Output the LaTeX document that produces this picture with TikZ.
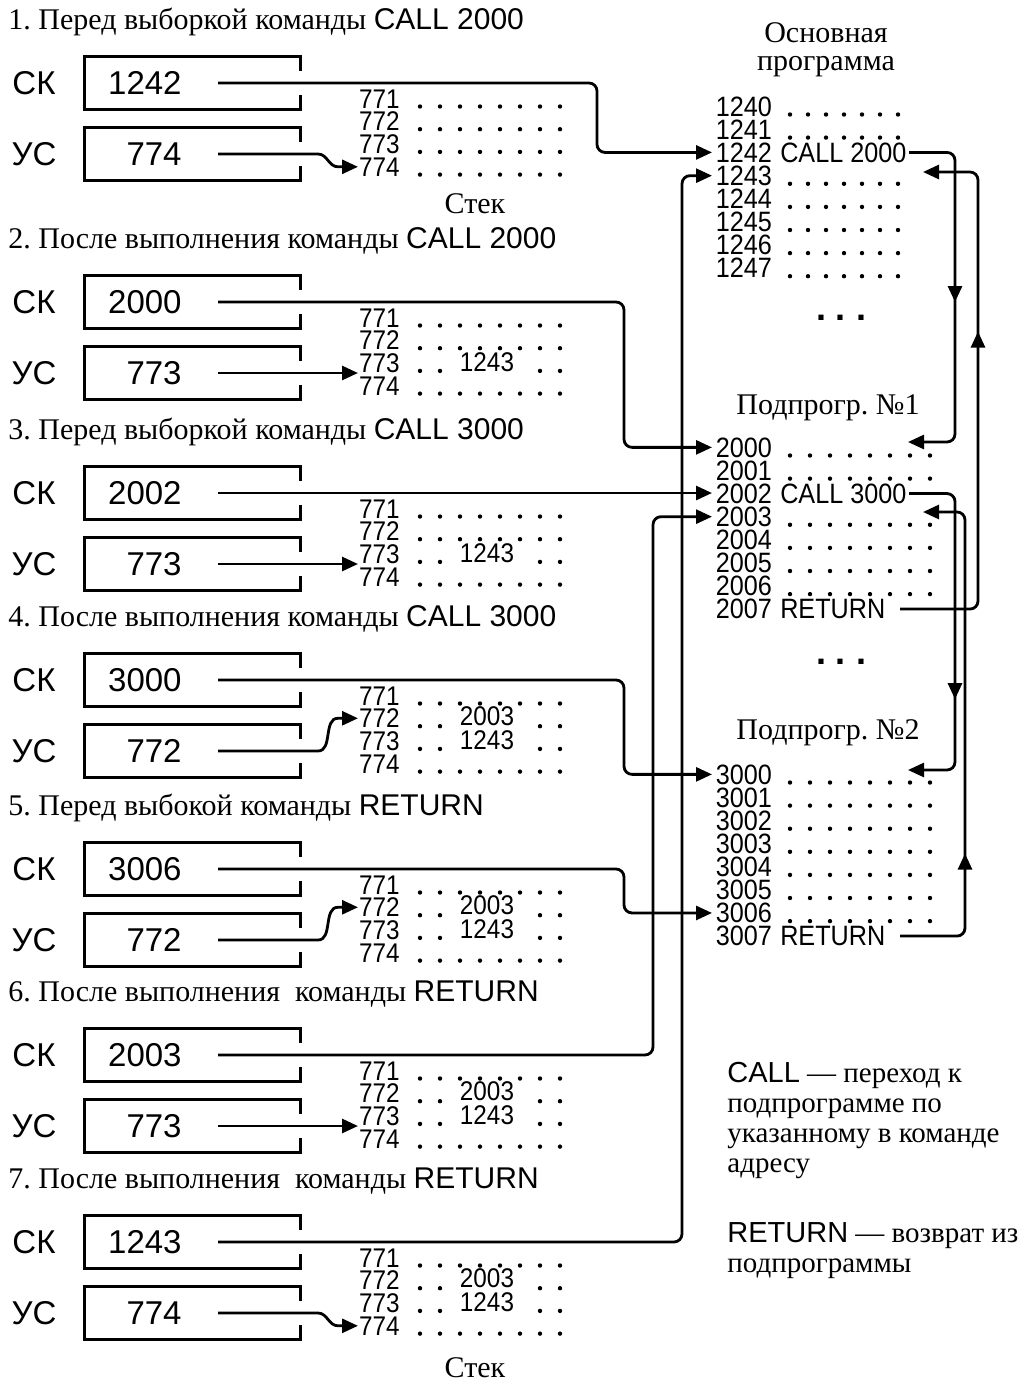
\documentclass[tikz,border=0pt]{standalone}
\usepackage{fontspec}
\setmainfont{Liberation Serif}
\setsansfont{Liberation Sans}
\newfontfamily\numfont[FakeStretch=0.9]{Liberation Sans}
\usetikzlibrary{arrows.meta,calc,positioning,decorations.markings}
\tikzset{
  reg/.style={font=\sffamily\fontsize{16.5}{16.5}\selectfont, inner sep=0pt},
  cell/.style={minimum width=107.5pt, minimum height=26pt, inner sep=0pt},
  frame/.style={line width=1.4pt},
  stk/.style={font=\numfont\fontsize{13.5}{13.5}\selectfont, inner sep=0.3pt, anchor=base west},
  row/.style={font=\numfont\fontsize{14}{14}\selectfont, inner sep=0.2pt, anchor=base west},
  head/.style={font=\fontsize{15}{15}\selectfont, inner sep=0pt, anchor=base west},
  ttl/.style={font=\fontsize{15}{14}\selectfont, align=center, inner sep=0pt},
  desc/.style={font=\fontsize{14.5}{15}\selectfont, align=left, inner sep=0pt, anchor=north west},
  link/.style={line width=1.4pt, rounded corners=4pt},
  tip/.style={link, -{Triangle[length=8pt,width=7pt]}},
  ptr/.style={line width=1.4pt, -{Triangle[length=8pt,width=7pt]}},
  midtip/.style={postaction={decorate,decoration={markings,
      mark=at position #1 with {\arrow{Triangle[length=8pt,width=7pt]}}}}},
}

\begin{document}
\frenchspacing
\begin{tikzpicture}[x=0.5pt,y=-0.5pt]
  \useasboundingbox (0,0) rectangle (1036,1382);

  \foreach \n/\y/\hd/\sv/\uv/\p/\m in {
    1/83/{1. Перед выборкой команды \textsf{CALL 2000}}/1242/774/4/0,
    2/302/{2. После выполнения команды \textsf{CALL 2000}}/2000/773/3/1,
    3/493/{3. Перед выборкой команды \textsf{CALL 3000}}/2002/773/3/1,
    4/680/{4. После выполнения команды \textsf{CALL 3000}}/3000/772/2/2,
    5/869/{5. Перед выбокой команды \textsf{RETURN}}/3006/772/2/2,
    6/1055/{6. После выполнения\ \ команды \textsf{RETURN}}/2003/773/3/2,
    7/1242/{7. После выполнения\ \ команды \textsf{RETURN}}/1243/774/4/2}{
    \node[head] (h\n) at (8,\y-54) {\hd};
    \node[reg] (skl\n) at (34,\y) {СК};
    \node[cell] (skb\n) at (192.5,\y) {};
    \node[reg, anchor=east] (skv\n) at (182,\y) {\sv};
    \draw[frame] ([yshift=-6pt]skb\n.east) -- (skb\n.south east) -- (skb\n.south west)
      -- (skb\n.north west) -- (skb\n.north east) -- ([yshift=6pt]skb\n.east);
    \node[reg] (usl\n) at (34,\y+71) {УС};
    \node[cell] (usb\n) at (192.5,\y+71) {};
    \node[reg, anchor=east] (usv\n) at (182,\y+71) {\uv};
    \draw[frame] ([yshift=-6pt]usb\n.east) -- (usb\n.south east) -- (usb\n.south west)
      -- (usb\n.north west) -- (usb\n.north east) -- ([yshift=6pt]usb\n.east);
    \foreach \r/\v in {1/771,2/772,3/773,4/774}{
      \pgfmathsetmacro\sy{\y+25+22.7*(\r-1)}
      \pgfmathtruncatemacro\full{(\m==0)||(\r==1)||(\r==4)||((\r==2)&&(\m<2))}
      \node[stk] (s\n r\r) at (358,\sy) {\v};
      \ifnum\full=1
        \foreach \k in {0,...,7} \fill (420+20*\k,\sy-1.5) circle[radius=1.1pt];
      \else
        \foreach \k in {0,1,6,7} \fill (420+20*\k,\sy-1.5) circle[radius=1.1pt];
      \fi
    }
    \ifnum\m>0 \node[stk, anchor=base] (v\n r3) at (487,\y+25+45.4-1) {1243}; \fi
    \ifnum\m>1 \node[stk, anchor=base] (v\n r2) at (487,\y+25+22.7-2) {2003}; \fi
    \ifnum\p=3
      \draw[ptr] ([xshift=18pt]usv\n.east) -- (usv\n.east -| s\n r3.west);
    \else
      \draw[ptr] ([xshift=18pt]usv\n.east) -- ++(100,0) to[out=0,in=180]
        ($(s\n r\p.west)+(-20,0)$) -- (s\n r\p.west);
    \fi
  }

  \node[ttl] (stack1) at (475,204) {Стек};
  \node[ttl] (stack7) at (475,1368) {Стек};

  \node[ttl] (tmain) at (826,50) {Основная\\программа};
  \node[ttl] (tsub1) at (828,408) {Подпрогр. №1};
  \node[ttl] (tsub2) at (828,733) {Подпрогр. №2};
  \node[font=\sffamily\bfseries\fontsize{18}{18}\selectfont, inner sep=0pt] (gap1) at (841,318) {. . .};
  \node[font=\sffamily\bfseries\fontsize{18}{18}\selectfont, inner sep=0pt] (gap2) at (841,662) {. . .};

  \foreach \s/\yb in {1240/116,2000/457,3000/784}{
    \foreach \k in {0,...,7}{
      \pgfmathtruncatemacro\num{\s+\k}
      \node[row] (r\num) at (715,\yb+23.1*\k) {\num};
    }
  }
  \foreach \yb/\dx/\nd/\rows in {116/18/6/{0,1,3,4,5,6,7},457/20/7/{0,1,3,4,5,6},784/20/7/{0,...,6}}{
    \foreach \k in \rows{
      \foreach \d in {0,...,\nd} \fill (790+\d*\dx,\yb+23.1*\k-1.5) circle[radius=1.1pt];
    }
  }
  \node[row, right=3.4pt of r1242] (c1242) {CALL 2000};
  \node[row, right=3.4pt of r2002] (c2002) {CALL 3000};
  \node[row, right=3.4pt of r2007] (c2007) {RETURN};
  \node[row, right=3.4pt of r3007] (c3007) {RETURN};

  \coordinate (in2000) at (908,442);
  \coordinate (in1243) at (923,172);
  \coordinate (in3000) at (908,770);
  \coordinate (in2003) at (923,512);
  \coordinate (cA) at (955,0);
  \coordinate (cB) at (978,0);
  \coordinate (cC) at (965,0);

  \draw[tip] ([xshift=18pt]skv6.east) -- ++(435,0) |- ([xshift=-1.5pt]r2003.west);
  \draw[tip] ([xshift=18pt]skv7.east) -- ++(464,0) |- ([xshift=-1.5pt]r1243.west);
  \draw[tip] ([xshift=18pt]skv1.east) -- ++(379,0) |- ([xshift=-1.5pt]r1242.west);
  \draw[tip] ([xshift=18pt]skv2.east) -- ++(406,0) |- ([xshift=-1.5pt]r2000.west);
  \draw[tip] ([xshift=18pt]skv3.east) coordinate (o3) -- ([xshift=-1.5pt]o3 -| r2002.west);
  \draw[tip] ([xshift=18pt]skv4.east) -- ++(406,0) |- ([xshift=-1.5pt]r3000.west);
  \draw[tip] ([xshift=18pt]skv5.east) -- ++(406,0) |- ([xshift=-1.5pt]r3006.west);

  \draw[tip, midtip=96pt] ([xshift=1pt]c1242.east) -- (c1242.east -| cA) -- (cA |- in2000) -- (in2000);
  \draw[tip, midtip=124pt] ([xshift=1pt]c2002.east) -- (c2002.east -| cA) -- (cA |- in3000) -- (in3000);
  \draw[tip, midtip=176pt] ([xshift=7pt]c2007.east) -- (c2007.east -| cB) -- (cB |- in1243) -- (in1243);
  \draw[tip, midtip=72pt] ([xshift=7pt]c3007.east) -- (c3007.east -| cC) -- (cC |- in2003) -- (in2003);

  \node[desc] (callnote) at (727,1062) {\textsf{CALL} — переход к\\подпрограмме по\\указанному в команде\\адресу};
  \node[desc] (retnote) at (727,1222) {\textsf{RETURN} — возврат из\\подпрограммы};
\end{tikzpicture}
\end{document}
